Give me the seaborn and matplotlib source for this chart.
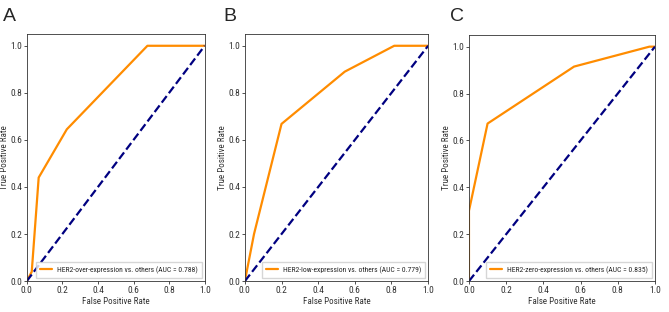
import numpy as np
import pandas as pd
import seaborn as sns
import matplotlib.pyplot as plt

# ROC points
fpr_over = [0.0, 0.028, 0.067, 0.225, 0.678, 1.0]
tpr_over = [0.0, 0.04, 0.44, 0.645, 1.0, 1.0]
fpr_low = [0.0, 0.05, 0.2, 0.545, 0.815, 1.0]
tpr_low = [0.0, 0.2, 0.668, 0.89, 1.0, 1.0]
fpr_zero = [0.0, 0.0, 0.1, 0.565, 0.97, 1.0]
tpr_zero = [0.0, 0.30, 0.672, 0.915, 1.0, 1.0]

labels = ["HER2-over-expression vs. others (AUC = 0.788)",
          "HER2-low-expression vs. others (AUC = 0.779)",
          "HER2-zero-expression vs. others (AUC = 0.835)"]
letters = ["A", "B", "C"]
chance = [0.0, 1.0]

sns.set_theme(style="ticks")
plt.rcParams['font.family'] = ['Roboto Condensed', 'Liberation Sans', 'DejaVu Sans']

fig = plt.figure(figsize=(6.69, 3.12), dpi=100)
boxes = [[0.040, 0.099, 0.266, 0.792],
         [0.366, 0.099, 0.274, 0.792],
         [0.701, 0.099, 0.278, 0.789]]
letter_x = [0.004, 0.334, 0.672]

curves = [(fpr_over, tpr_over), (fpr_low, tpr_low), (fpr_zero, tpr_zero)]
for i, (fx, ty) in enumerate(curves):
    ax = fig.add_axes(boxes[i])
    df = pd.DataFrame({"fpr": fx, "tpr": ty})
    sns.lineplot(data=df, x="fpr", y="tpr", ax=ax, color="darkorange", lw=1.6,
                 sort=False, estimator=None, label=labels[i])
    ax.plot(chance, chance, color="navy", lw=1.6, ls="--")
    ax.set_xlim(0.0, 1.0)
    ax.set_ylim(0.0, 1.05)
    ax.set_xticks(np.arange(0, 1.01, 0.2))
    ax.set_yticks(np.arange(0, 1.01, 0.2))
    ax.tick_params(labelsize=6.8, length=2, width=0.6, pad=1.2, colors="#333333")
    for s in ax.spines.values():
        s.set_linewidth(0.6)
        s.set_color("#333333")
    ax.set_xlabel("False Positive Rate", fontsize=6.5, labelpad=2, color="#333333")
    ax.set_ylabel("True Positive Rate", fontsize=6.5, labelpad=1, color="#333333")
    ax.legend(loc="lower right", fontsize=5.5, frameon=True, fancybox=False,
              edgecolor="#cccccc", handlelength=1.6, handletextpad=0.6,
              borderpad=0.55, borderaxespad=0.4)
    fig.text(letter_x[i], 0.975, letters[i], fontsize=14, va="top", ha="left",
             family=['Liberation Sans', 'DejaVu Sans'])

fig.savefig("out.png", dpi=100)
